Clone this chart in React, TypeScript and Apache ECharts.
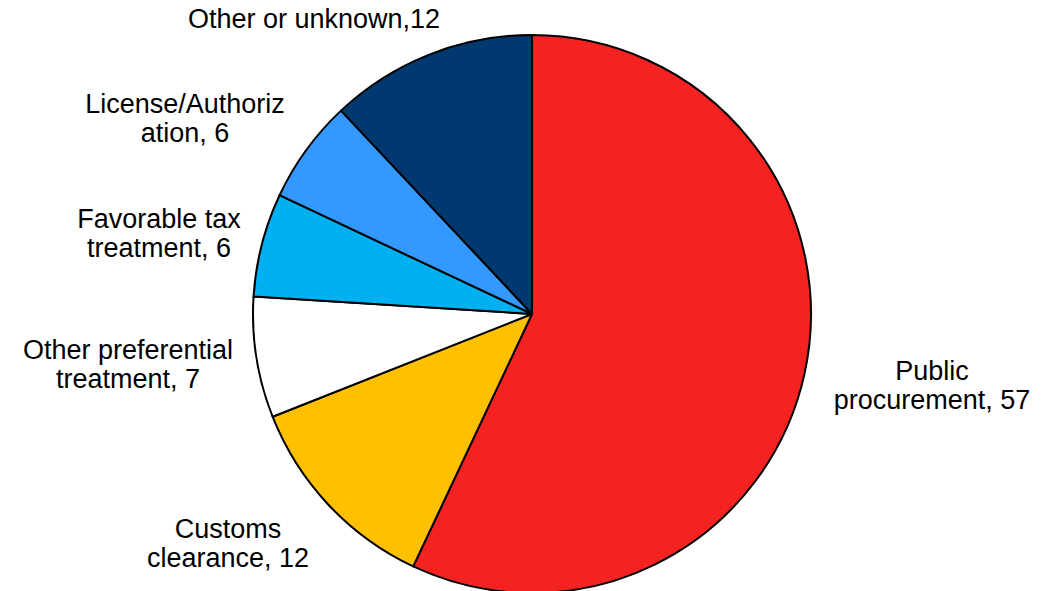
import React, { useEffect, useRef } from "react";
import * as echarts from "echarts";

const categories = [
  "Public\nprocurement",
  "Customs\nclearance",
  "Other preferential\ntreatment",
  "Favorable tax\ntreatment",
  "License/Authoriz\nation",
  "Other or unknown",
];
const values = [57, 12, 7, 6, 6, 12];
const separators = [", ", ", ", ", ", ", ", ", ", ","];
const colors = ["#F52222", "#FFC000", "#FFFFFF", "#00B0F0", "#3399FF", "#003870"];
// label centre positions (layout only)
const labelCenters: [number, number][] = [
  [932, 385],
  [228, 543],
  [128, 364],
  [159, 233],
  [185, 118],
  [314, 19],
];

export default function App() {
  const ref = useRef<HTMLDivElement>(null);
  useEffect(() => {
    if (!ref.current) return;
    const chart = echarts.init(ref.current, undefined, { renderer: "svg" });
    chart.setOption({
      animation: false,
      backgroundColor: "#FFFFFF",
      series: [
        {
          type: "pie",
          center: [532, 314],
          radius: 279,
          startAngle: 90,
          clockwise: true,
          avoidLabelOverlap: false,
          data: categories.map((c, i) => ({
            name: c,
            value: values[i],
            itemStyle: { color: colors[i] },
          })),
          itemStyle: { borderColor: "#000000", borderWidth: 2 },
          label: {
            show: true,
            position: "outside",
            formatter: (p: any) => `${p.name}${separators[p.dataIndex]}${p.value}`,
            fontFamily: "Liberation Sans, Arial, sans-serif",
            fontSize: 27,
            lineHeight: 29,
            color: "#000000",
            align: "center",
          },
          labelLine: { show: false },
          labelLayout: (params: any) => {
            const p = labelCenters[params.dataIndex];
            return { x: p[0], y: p[1], align: "center", verticalAlign: "middle" };
          },
          emphasis: { disabled: true },
        },
      ],
    });
    return () => chart.dispose();
  }, []);
  return (
    <div
      ref={ref}
      style={{ position: "fixed", left: 0, top: 0, width: 1053, height: 591, background: "#fff" }}
    />
  );
}
